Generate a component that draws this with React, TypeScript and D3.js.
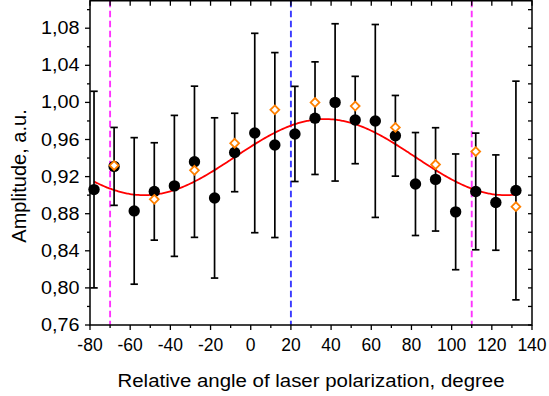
import React from "react";
import * as d3 from "d3";

const angles = [-78, -68, -58, -48, -38, -28, -18, -8, 2, 12, 22, 32, 42, 52, 62, 72, 82, 92, 102, 112, 122, 132];
const amplitude = [0.906, 0.931, 0.883, 0.904, 0.910, 0.936, 0.897, 0.946, 0.967, 0.954, 0.966, 0.983, 1.000, 0.981, 0.980, 0.964, 0.912, 0.917, 0.882, 0.904, 0.892, 0.905];
const amplitudeErr = [0.106, 0.042, 0.079, 0.0525, 0.076, 0.0815, 0.0864, 0.0423, 0.1075, 0.0997, 0.0513, 0.0607, 0.0848, 0.0471, 0.104, 0.0435, 0.0555, 0.0557, 0.0624, 0.0629, 0.0514, 0.1179];
const altAngles = [-68, -48, -28, -8, 12, 32, 52, 72, 92, 112, 132];
const altAmplitude = [0.932, 0.8955, 0.9268, 0.956, 0.992, 1.0, 0.996, 0.973, 0.933, 0.947, 0.8876];
// sinusoidal fit parameters: y = offset + amp * cos(2*(x - phase))
const fitOffset = 0.941;
const fitAmp = 0.041;
const fitPhase = 37;
const fitRange = [-78, 132];
const magentaLines = [-70, 110];
const blueLines = [20];
const xTicks = [-80, -60, -40, -20, 0, 20, 40, 60, 80, 100, 120, 140];
const yTicks = [0.76, 0.8, 0.84, 0.88, 0.92, 0.96, 1.0, 1.04, 1.08];

const W = 549, H = 396;
const L = 90, R = 532, T = 0.75, B = 325;

export default function App() {
  const x = d3.scaleLinear().domain([-80, 140]).range([L, R]);
  const y = d3.scaleLinear().domain([0.76, 1.1096]).range([B, T]);
  const fitPts = d3.range(fitRange[0], fitRange[1] + 0.01, 1).map((a) => [a, fitOffset + fitAmp * Math.cos((2 * (a - fitPhase) * Math.PI) / 180)] as [number, number]);
  const line = d3.line<[number, number]>().x((d) => x(d[0])).y((d) => y(d[1])).curve(d3.curveMonotoneX);
  const minorX = d3.range(-80, 141, 10);
  const minorY = d3.range(0, 18).map((i) => 0.76 + i * 0.02).filter((v) => v <= 1.109);
  const fmt = (v: number) => v.toFixed(2).replace(".", ",");
  const font = "'Liberation Sans', Arial, sans-serif";
  const diamond = (cx: number, cy: number, r: number) => `M${cx},${cy - r}L${cx + r},${cy}L${cx},${cy + r}L${cx - r},${cy}Z`;
  return (
    <svg width={W} height={H} style={{ position: "absolute", left: 0, top: 0, background: "#fff" }} fontFamily={font}>
      <rect x={0} y={0} width={W} height={H} fill="#fff" />
      {magentaLines.map((v) => (
        <line key={"m" + v} x1={x(v)} x2={x(v)} y1={T} y2={B} stroke="#ff33ff" strokeWidth={1.9} strokeDasharray="6.5,3.5" />
      ))}
      {blueLines.map((v) => (
        <line key={"b" + v} x1={x(v)} x2={x(v)} y1={T} y2={B} stroke="#3a3aff" strokeWidth={1.9} strokeDasharray="6.5,3.5" />
      ))}
      <path d={line(fitPts) || ""} fill="none" stroke="#ff0000" strokeWidth={1.8} />
      {angles.map((a, i) => {
        const cx = x(a);
        const y1 = y(amplitude[i] + amplitudeErr[i]);
        const y2 = y(amplitude[i] - amplitudeErr[i]);
        return (
          <g key={"e" + i} stroke="#000" strokeWidth={1.7}>
            <line x1={cx} x2={cx} y1={y1} y2={y2} />
            <line x1={cx - 3.7} x2={cx + 3.7} y1={y1} y2={y1} />
            <line x1={cx - 3.7} x2={cx + 3.7} y1={y2} y2={y2} />
          </g>
        );
      })}
      {angles.map((a, i) => (
        <circle key={"c" + i} cx={x(a)} cy={y(amplitude[i])} r={5.7} fill="#000" />
      ))}
      {altAngles.map((a, i) => (
        <path key={"d" + i} d={diamond(x(a), y(altAmplitude[i]), 4.4)} fill="#fff" stroke="#ff8000" strokeWidth={1.8} />
      ))}
      {/* frame */}
      <rect x={L} y={T} width={R - L} height={B - T} fill="none" stroke="#000" strokeWidth={1.5} />
      {/* bottom ticks */}
      {minorX.map((v) => (
        <line key={"bx" + v} x1={x(v)} x2={x(v)} y1={B} y2={B + (v % 20 === 0 ? 5 : 3)} stroke="#000" strokeWidth={1.3} />
      ))}
      {/* top ticks inward */}
      {minorX.map((v) => (
        <line key={"tx" + v} x1={x(v)} x2={x(v)} y1={T} y2={T + 5} stroke="#000" strokeWidth={1.3} />
      ))}
      {/* left ticks outward */}
      {minorY.map((v, i) => (
        <line key={"ly" + i} x1={L} x2={L - (i % 2 === 0 ? 5 : 3)} y1={y(v)} y2={y(v)} stroke="#000" strokeWidth={1.3} />
      ))}
      {/* right ticks inward */}
      {minorY.map((v, i) => (
        <line key={"ry" + i} x1={R} x2={R - 4} y1={y(v)} y2={y(v)} stroke="#000" strokeWidth={1.3} />
      ))}
      {xTicks.map((v) => (
        <text key={"xl" + v} x={x(v)} y={345} fontSize={17.5} textAnchor="middle" dominantBaseline="central" fill="#000">
          {v}
        </text>
      ))}
      {yTicks.map((v) => (
        <text key={"yl" + v} x={79.5} y={y(v)} fontSize={17.5} textAnchor="end" dominantBaseline="central" fill="#000" textLength={38.5} lengthAdjust="spacingAndGlyphs">
          {fmt(v)}
        </text>
      ))}
      <text x={(L + R) / 2} y={386.5} fontSize={17.5} textAnchor="middle" fill="#000" textLength={387} lengthAdjust="spacingAndGlyphs">
        Relative angle of laser polarization, degree
      </text>
      <text transform={`translate(26,176) rotate(-90)`} fontSize={20} textAnchor="middle" fill="#000">
        Amplitude, a.u.
      </text>
    </svg>
  );
}
